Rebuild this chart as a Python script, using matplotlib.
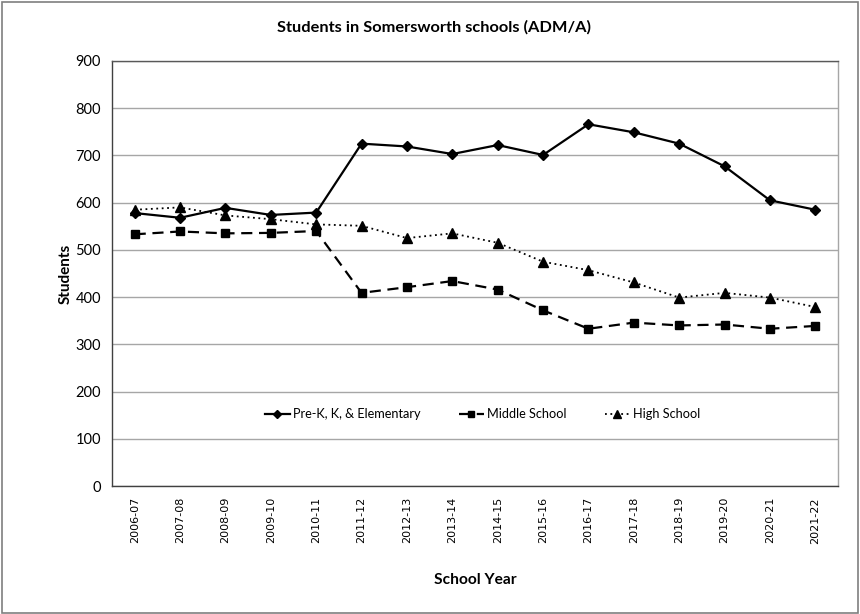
import matplotlib
matplotlib.use("Agg")
import matplotlib.pyplot as plt
from matplotlib.patches import Rectangle

years = ["2006-07", "2007-08", "2008-09", "2009-10", "2010-11", "2011-12", "2012-13",
         "2013-14", "2014-15", "2015-16", "2016-17", "2017-18", "2018-19", "2019-20",
         "2020-21", "2021-22"]
elementary = [578, 568, 589, 574, 579, 725, 719, 703, 722, 701, 766, 749, 725, 677, 605, 585]
middle = [533, 539, 535, 536, 540, 409, 421, 434, 416, 372, 333, 346, 340, 342, 333, 339]
high = [585, 590, 573, 565, 554, 551, 525, 535, 515, 475, 457, 431, 399, 409, 399, 379]
yticks = [0, 100, 200, 300, 400, 500, 600, 700, 800, 900]

plt.rcParams['font.family'] = ['Lato', 'DejaVu Sans']

fig = plt.figure(figsize=(8.6, 6.14), dpi=100)
fig.patch.set_facecolor('white')
fig.add_artist(Rectangle((0.002, 0.002), 0.996, 0.995, transform=fig.transFigure,
                         fill=False, edgecolor='#7f7f7f', lw=1.2))

ax = fig.add_axes([112/860, (614-486)/614, 726/860, 425/614])
x = list(range(len(years)))

ax.plot(x, elementary, color='black', lw=1.6, marker='D', markersize=5,
        label='Pre-K, K, & Elementary')
ax.plot(x, middle, color='black', lw=1.6, linestyle=(0, (5, 3)), marker='s', markersize=5.5,
        label='Middle School')
ax.plot(x, high, color='black', lw=1.3, linestyle=(0, (1, 2)), marker='^', markersize=6.5,
        label='High School')

ax.set_xlim(-0.5, len(years) - 0.5)
ax.set_ylim(0, 900)
ax.set_yticks(yticks)
ax.set_xticks(x)
ax.set_xticklabels(years, rotation=90, fontsize=8, family=['DejaVu Sans'])
ax.tick_params(axis='both', length=0)
ax.tick_params(axis='y', labelsize=10.5, pad=8)
ax.tick_params(axis='x', pad=8)
ax.yaxis.grid(True, color='#a6a6a6', lw=1)
ax.set_axisbelow(True)

for side in ['left', 'bottom']:
    ax.spines[side].set_color('#404040')
    ax.spines[side].set_linewidth(1.0)
ax.spines['top'].set_color('#595959')
ax.spines['top'].set_linewidth(1.0)
ax.spines['right'].set_color('#a6a6a6')
ax.spines['right'].set_linewidth(1.0)

ax.set_ylabel('Students', fontsize=11, fontweight='bold', labelpad=2)
ax.set_xlabel('School Year', fontsize=11.2, fontweight='bold', labelpad=21)
fig.text(434/860, 1 - 27/614, 'Students in Somersworth schools (ADM/A)', ha='center', va='center',
         fontsize=11.8, fontweight='bold')

leg = ax.legend(loc='center', bbox_to_anchor=(0.51, 0.169), ncol=3, frameon=False,
                fontsize=9.2, handlelength=2.0, columnspacing=3.0, handletextpad=0.2,
                markerscale=0.8)

fig.savefig('out.png', dpi=100)
